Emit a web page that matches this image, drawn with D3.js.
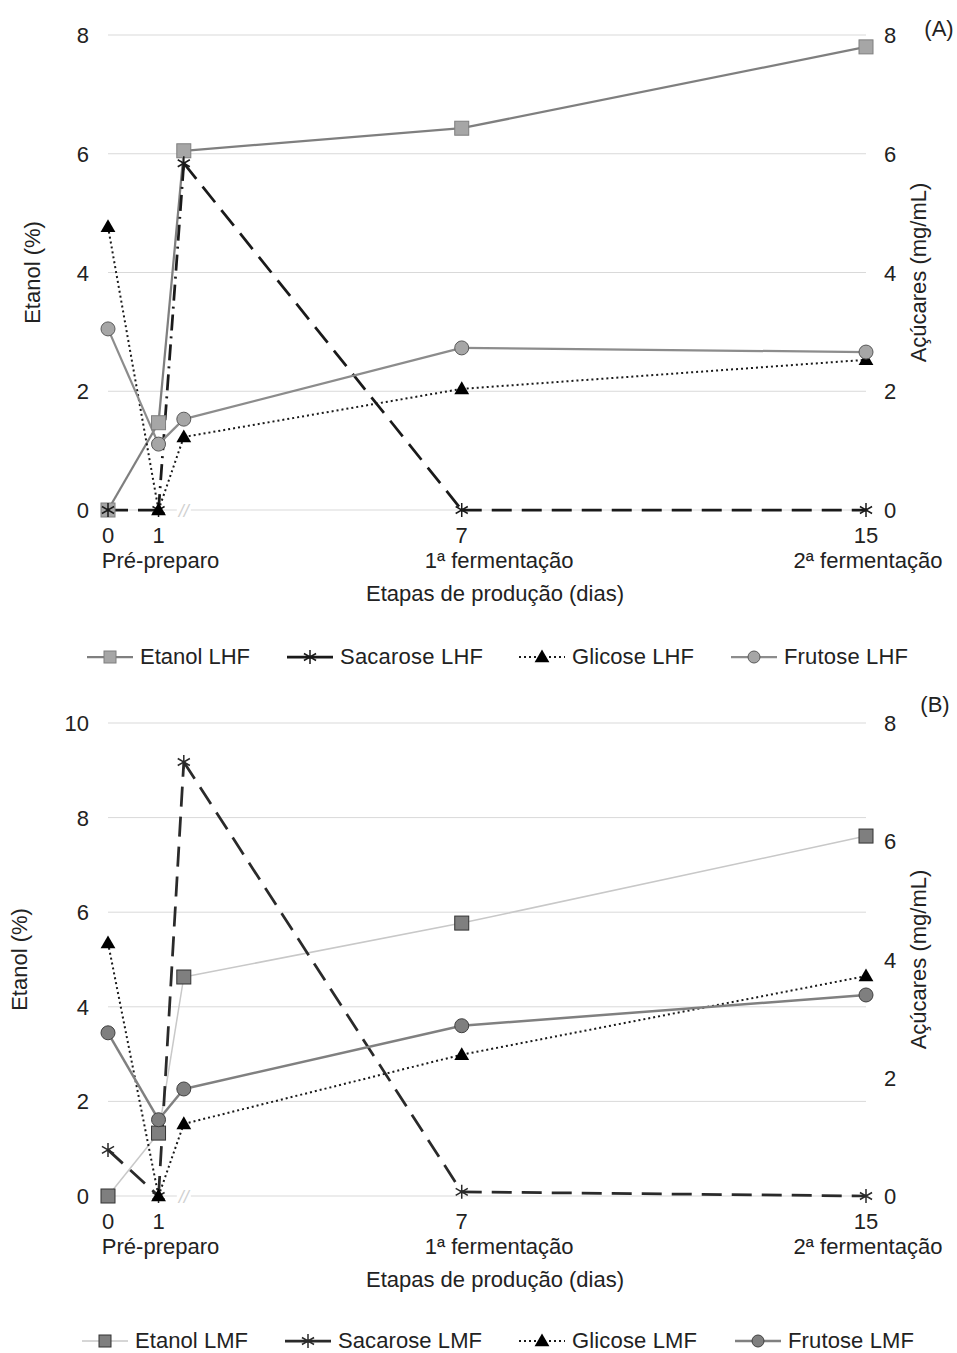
<!DOCTYPE html>
<html>
<head>
<meta charset="utf-8">
<script src="https://cdn.jsdelivr.net/npm/d3@7"></script>
<style>
	body { margin: 0; background: #fff; }
	text { font-family: "Liberation Sans", Arial, sans-serif; fill: #222; }
</style>
</head>
<body>
<script>
// dados
const days = [0, 1, 1.5, 7, 15];
const tickDays = [0, 1, 7, 15];
const tickLabels = ["0", "1", "7", "15"];
const stageLabels = [
	{ day: 1, text: "Pré-preparo" },
	{ day: 7.7, text: "1ª fermentação" },
	{ day: 15, text: "2ª fermentação" }
];

// painel A (LHF)
const etanolLHF = [0, 1.47, 6.05, 6.43, 7.8];
const sacaroseLHF = [0, 0, 5.84, 0, 0];
const glicoseLHF = [4.77, 0, 1.23, 2.04, 2.53];
const frutoseLHF = [3.05, 1.11, 1.53, 2.73, 2.66];

// painel B (LMF)
const etanolLMF = [0, 1.33, 4.63, 5.77, 7.61];
const sacaroseLMF = [0.78, 0, 7.34, 0.07, 0];
const glicoseLMF = [4.28, 0, 1.22, 2.39, 3.72];
const frutoseLMF = [2.76, 1.29, 1.81, 2.88, 3.4];

const leftTicksA = [0, 2, 4, 6, 8];
const leftTicksB = [0, 2, 4, 6, 8, 10];
const rightTicks = [0, 2, 4, 6, 8];

const w = 957,
	h = 1353,
	fs = "22px";

const svg = d3
	.select("body")
	.append("svg")
	.attr("width", w)
	.attr("height", h);

const x = d3.scaleLinear().domain([0, 15]).range([108, 866]);

// desenha marcador
function marker(g, type, cx, cy, style) {
	if (type === "square") {
		g.append("rect")
			.attr("x", cx - 7)
			.attr("y", cy - 7)
			.attr("width", 14)
			.attr("height", 14)
			.attr("fill", style.fill)
			.attr("stroke", style.mstroke)
			.attr("stroke-width", 1);
	} else if (type === "circle") {
		g.append("circle")
			.attr("cx", cx)
			.attr("cy", cy)
			.attr("r", 7)
			.attr("fill", style.fill)
			.attr("stroke", style.mstroke)
			.attr("stroke-width", 1);
	} else if (type === "triangle") {
		g.append("path")
			.attr("d", d3.symbol(d3.symbolTriangle, 95)())
			.attr("transform", `translate(${cx},${cy + 1})`)
			.attr("fill", "#000");
	} else if (type === "star") {
		const r = 7;
		const p = [0, 60, 120].map(a => {
			const rad = (a * Math.PI) / 180;
			return `M${cx - r * Math.sin(rad)},${cy - r * Math.cos(rad)}L${cx + r * Math.sin(rad)},${cy + r * Math.cos(rad)}`;
		}).join("");
		g.append("path")
			.attr("d", p)
			.attr("stroke", style.mstroke)
			.attr("stroke-width", 1.5)
			.attr("fill", "none");
	}
}

function drawPanel(cfg) {
	const g = svg.append("g");
	const yL = d3.scaleLinear().domain([0, cfg.leftMax]).range([cfg.y0, cfg.y1]);
	const yR = d3.scaleLinear().domain([0, 8]).range([cfg.y0, cfg.y1]);

	// grade
	g.selectAll(".grid")
		.data(cfg.leftTicks)
		.enter()
		.append("line")
		.attr("x1", x(0))
		.attr("x2", x(15))
		.attr("y1", d => yL(d))
		.attr("y2", d => yL(d))
		.attr("stroke", "#d9d9d9")
		.attr("stroke-width", 1);

	// quebra //
	g.append("rect")
		.attr("x", x(1.5) - 7)
		.attr("y", cfg.y0 - 8)
		.attr("width", 14)
		.attr("height", 16)
		.attr("fill", "#fff");
	g.append("text")
		.attr("x", x(1.5))
		.attr("y", cfg.y0 + 7)
		.attr("text-anchor", "middle")
		.attr("font-size", "18px")
		.attr("font-style", "italic")
		.style("fill", "#d0d0d0")
		.text("//");

	// eixo esquerdo
	g.selectAll(".lt")
		.data(cfg.leftTicks)
		.enter()
		.append("text")
		.attr("x", 89)
		.attr("y", d => yL(d) + 8)
		.attr("text-anchor", "end")
		.attr("font-size", fs)
		.text(d => d);

	// eixo direito
	g.selectAll(".rt")
		.data(rightTicks)
		.enter()
		.append("text")
		.attr("x", 884)
		.attr("y", d => yR(d) + 8)
		.attr("font-size", fs)
		.text(d => d);

	// títulos dos eixos
	g.append("text")
		.attr("transform", `translate(${cfg.leftTitleX},${(cfg.y0 + cfg.y1) / 2}) rotate(-90)`)
		.attr("text-anchor", "middle")
		.attr("font-size", fs)
		.text("Etanol (%)");
	g.append("text")
		.attr("transform", `translate(926,${(cfg.y0 + cfg.y1) / 2}) rotate(-90)`)
		.attr("text-anchor", "middle")
		.attr("font-size", fs)
		.text("Açúcares (mg/mL)");

	// eixo x
	g.selectAll(".xt")
		.data(tickDays)
		.enter()
		.append("text")
		.attr("x", d => x(d))
		.attr("y", cfg.y0 + 33)
		.attr("text-anchor", "middle")
		.attr("font-size", fs)
		.text((d, i) => tickLabels[i]);
	g.selectAll(".st")
		.data(stageLabels)
		.enter()
		.append("text")
		.attr("x", d => x(d.day) + (d.day === 15 ? 2 : 2))
		.attr("y", cfg.y0 + 58)
		.attr("text-anchor", "middle")
		.attr("font-size", fs)
		.text(d => d.text);
	g.append("text")
		.attr("x", 495)
		.attr("y", cfg.y0 + 91)
		.attr("text-anchor", "middle")
		.attr("font-size", fs)
		.text("Etapas de produção (dias)");

	g.append("text")
		.attr("x", cfg.tagX)
		.attr("y", cfg.tagY)
		.attr("text-anchor", "middle")
		.attr("font-size", fs)
		.text(cfg.tag);

	// séries (segmento a segmento, para tracejados específicos)
	cfg.series.forEach(s => {
		const sc = s.axis === "left" ? yL : yR;
		const line = d3.line().x(d => x(d[0])).y(d => sc(d[1]));
		d3.pairs(s.values.map((v, i) => [days[i], v])).forEach((seg, i) => {
			g.append("path")
				.datum(seg)
				.attr("d", line)
				.attr("fill", "none")
				.attr("stroke", s.stroke)
				.attr("stroke-width", s.width)
				.attr("stroke-dasharray", (s.segDash && s.segDash[i]) || s.dash);
		});
	});
	cfg.series.forEach(s => {
		const sc = s.axis === "left" ? yL : yR;
		s.values.forEach((v, i) => marker(g, s.marker, x(days[i]), sc(v), s));
	});

	// legenda
	cfg.series.forEach((s, i) => {
		const lx = cfg.legendX[i],
			ly = cfg.legendY;
		g.append("line")
			.attr("x1", lx)
			.attr("x2", lx + 46)
			.attr("y1", ly)
			.attr("y2", ly)
			.attr("stroke", s.stroke)
			.attr("stroke-width", s.width)
			.attr("stroke-dasharray", s.legendDash);
		if (s.marker === "square") {
			g.append("rect")
				.attr("x", lx + 17)
				.attr("y", ly - 6)
				.attr("width", 12)
				.attr("height", 12)
				.attr("fill", s.fill)
				.attr("stroke", s.mstroke)
				.attr("stroke-width", 1);
		} else if (s.marker === "circle") {
			g.append("circle")
				.attr("cx", lx + 23)
				.attr("cy", ly)
				.attr("r", 6)
				.attr("fill", s.fill)
				.attr("stroke", s.mstroke)
				.attr("stroke-width", 1);
		} else {
			marker(g, s.marker, lx + 23, ly, s);
		}
		g.append("text")
			.attr("x", lx + 53)
			.attr("y", ly + 7)
			.attr("font-size", fs)
			.attr("textLength", cfg.legendLen[i])
			.text(s.name);
	});
}

drawPanel({
	y0: 510,
	y1: 35,
	leftMax: 8,
	leftTicks: leftTicksA,
	leftTitleX: 40,
	tag: "(A)",
	tagX: 939,
	tagY: 36,
	legendY: 657,
	legendX: [87, 287, 519, 731],
	legendLen: [110, 143, 122, 124],
	series: [
		{ name: "Etanol LHF", values: etanolLHF, axis: "left", marker: "square", stroke: "#7f7f7f", width: 2.25, dash: null, legendDash: null, fill: "#a6a6a6", mstroke: "#7f7f7f" },
		{ name: "Sacarose LHF", values: sacaroseLHF, axis: "right", marker: "star", stroke: "#1a1a1a", width: 2.75, dash: "20,10", segDash: [null, "16,6,2,6"], legendDash: null, fill: "none", mstroke: "#1a1a1a" },
		{ name: "Glicose LHF", values: glicoseLHF, axis: "right", marker: "triangle", stroke: "#1a1a1a", width: 2, dash: "2,3", legendDash: "2,3", fill: "#000", mstroke: "#000" },
		{ name: "Frutose LHF", values: frutoseLHF, axis: "right", marker: "circle", stroke: "#8c8c8c", width: 2.25, dash: null, legendDash: null, fill: "#a6a6a6", mstroke: "#595959" }
	]
});

drawPanel({
	y0: 1196,
	y1: 723,
	leftMax: 10,
	leftTicks: leftTicksB,
	leftTitleX: 27,
	tag: "(B)",
	tagX: 935,
	tagY: 712,
	legendY: 1341,
	legendX: [82, 285, 519, 735],
	legendLen: [113, 144, 125, 126],
	series: [
		{ name: "Etanol LMF", values: etanolLMF, axis: "left", marker: "square", stroke: "#c8c8c8", width: 1.5, dash: null, legendDash: null, fill: "#7f7f7f", mstroke: "#333" },
		{ name: "Sacarose LMF", values: sacaroseLMF, axis: "right", marker: "star", stroke: "#2a2a2a", width: 2.75, dash: "20,10", legendDash: null, fill: "none", mstroke: "#2a2a2a" },
		{ name: "Glicose LMF", values: glicoseLMF, axis: "right", marker: "triangle", stroke: "#1a1a1a", width: 2, dash: "2,3", legendDash: "2,3", fill: "#000", mstroke: "#000" },
		{ name: "Frutose LMF", values: frutoseLMF, axis: "right", marker: "circle", stroke: "#808080", width: 2.5, dash: null, legendDash: null, fill: "#7f7f7f", mstroke: "#404040" }
	]
});
</script>
</body>
</html>
